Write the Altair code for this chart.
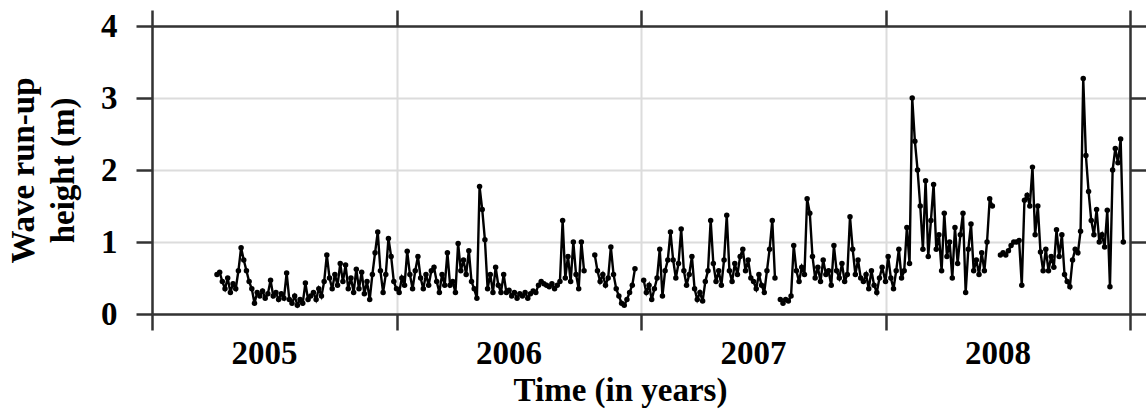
import altair as alt
import numpy as np
import pandas as pd

# Daily-ish wave run-up heights (m), one record every 4 days; None = missing record
start_2005 = "2005-04-08"
runup_2005 = [
    0.55, 0.58, 0.45, 0.35, 0.50, 0.30, 0.42, 0.35, 0.60, 0.92,
    0.75, 0.60, 0.45, 0.35, 0.15, 0.30, 0.25, 0.32, 0.22, 0.28,
    0.47, 0.25, 0.30, 0.20, 0.28, 0.22, 0.57, 0.20, 0.15, 0.25,
    0.12, 0.20, 0.15, 0.43, 0.20, 0.25, 0.30, 0.20, 0.35, 0.25,
    0.45, 0.82, 0.50, 0.35, 0.55, 0.40, 0.70, 0.45, 0.68, 0.35,
    0.50, 0.30, 0.62, 0.35, 0.58, 0.28, 0.45, 0.20, 0.55, 0.85,
    1.14, 0.60, 0.30, 0.55, 1.05, 0.80, 0.45,
]

start_2006 = "2006-01-01"
runup_2006 = [
    0.35, 0.30, 0.50, 0.40, 0.87, 0.55, 0.35, 0.60, 0.80, 0.50,
    0.35, 0.55, 0.40, 0.60, 0.65, 0.45, 0.30, 0.55, 0.40, 0.85,
    0.40, 0.45, 0.30, 0.98, 0.60, 0.75, 0.55, 0.88, 0.45, 0.35,
    0.22, 1.77, 1.45, 1.03, 0.35, 0.55, 0.30, 0.65, 0.40, 0.30,
    0.55, 0.30, 0.33, 0.25, 0.30, 0.22, 0.28, 0.25, 0.30, 0.22,
    0.28, 0.32, 0.30, 0.40, 0.45, 0.42, 0.40, 0.38, 0.42, 0.35,
    0.40, 0.45, 1.30, 0.50, 0.80, 0.45, 1.00, 0.55, 0.35, 1.00,
    0.60, None, None, None, 0.82, 0.60, 0.45, 0.55, 0.40, 0.50,
    0.93, 0.55, 0.35, 0.25, 0.15, 0.12, 0.20, 0.30, 0.40, 0.63,
    None, None,
]

start_2007 = "2007-01-01"
runup_2007 = [
    None, 0.47, 0.30, 0.40, 0.20, 0.35, 0.50, 0.90, 0.25, 0.60,
    0.75, 1.14, 0.75, 0.50, 0.70, 1.18, 0.60, 0.40, 0.55, 0.80,
    0.35, 0.20, 0.30, 0.18, 0.45, 0.60, 1.30, 0.70, 0.45, 0.60,
    0.40, 0.75, 1.37, 0.60, 0.45, 0.70, 0.55, 0.80, 0.90, 0.60,
    0.75, 0.50, 0.45, 0.35, 0.55, 0.40, 0.30, 0.60, 0.90, 1.30,
    0.50, None, 0.20, 0.15, 0.20, 0.18, 0.25, 0.95, 0.60, 0.45,
    0.65, 0.55, 1.60, 1.40, 0.80, 0.50, 0.65, 0.45, 0.75, 0.55,
    0.60, 0.40, 0.95, 0.60, 0.50, 0.70, 0.45, 0.55, 1.35, 0.90,
    0.55, 0.75, 0.50, 0.45, 0.55, 0.35, 0.60, 0.40, 0.30, 0.50,
    0.65,
]

start_2008 = "2008-01-01"
runup_2008 = [
    0.45, 0.80, 0.50, 0.35, 0.60, 0.90, 0.50, 0.60, 1.20, 0.70,
    3.00, 2.40, 2.00, 1.50, 0.90, 1.85, 0.80, 1.30, 1.80, 0.90,
    1.10, 0.60, 1.40, 0.80, 1.00, 0.50, 1.20, 0.70, 1.10, 1.40,
    0.30, 0.90, 1.25, 0.60, 0.75, 0.55, 0.85, 0.60, 1.00, 1.60,
    1.50, None, None, 0.82, 0.85, 0.82, 0.88, 0.95, 1.00, 1.00,
    1.02, 0.40, 1.58, 1.65, 1.50, 2.04, 1.10, 1.50, 0.86, 0.60,
    0.90, 0.60, 0.80, 0.65, 1.17, 0.80, 1.10, 0.55, 0.45, 0.38,
    0.75, 0.90, 0.85, 1.15, 3.27, 2.20, 1.70, 1.30, 1.10, 1.45,
    1.00, 1.10, 0.93, 1.44, 0.38, 2.00, 2.30, 2.10, 2.43, 1.00,
]

year_ticks = [2005, 2006, 2007, 2008, 2009]
height_ticks = [0, 1, 2, 3, 4]

frames = []
for start, vals in [(start_2005, runup_2005), (start_2006, runup_2006),
                    (start_2007, runup_2007), (start_2008, runup_2008)]:
    dates = pd.date_range(start, periods=len(vals), freq="4D")
    frames.append(pd.DataFrame({"date": dates, "runup": vals}))
df = pd.concat(frames, ignore_index=True)
df["runup"] = pd.to_numeric(df["runup"])
# a missing record breaks the line into a new segment
df["segment"] = df["runup"].isna().cumsum()
df = df.dropna().copy()
days_in_year = np.where(df["date"].dt.is_leap_year, 366, 365)
df["year"] = df["date"].dt.year + (df["date"].dt.dayofyear - 1) / days_in_year
df = df[["year", "runup", "segment"]]

FONT = "Liberation Serif"
x_scale = alt.Scale(domain=[2005, 2009], nice=False, zero=False)
y_scale = alt.Scale(domain=[0, 4], nice=False, zero=False)

base = alt.Chart(df)

line = base.mark_line(color="black", strokeWidth=2.4).encode(
    x=alt.X(
        "year:Q",
        scale=x_scale,
        axis=alt.Axis(
            orient="bottom",
            values=year_ticks,
            labelExpr="datum.value < 2009 ? format(datum.value, 'd') : ''",
            labelOffset=112,
            labelPadding=33,
            labelBaseline="alphabetic",
            labelOverlap=False,
            labelBound=False,
            labelFlush=False,
            grid=True,
            title="Time (in years)",
            titleX=468,
            titleY=86,
            titleAlign="center",
            titleBaseline="alphabetic",
        ),
    ),
    y=alt.Y(
        "runup:Q",
        scale=y_scale,
        axis=alt.Axis(
            orient="left",
            values=height_ticks,
            format="d",
            labelPadding=19,
            labelBaseline="middle",
            grid=True,
            title=["Wave run-up", "height (m)"],
            titleAngle=270,
            titleX=-129,
            titleY=144,
            titleAlign="center",
            titleBaseline="middle",
            titleLineHeight=40,
        ),
    ),
    detail="segment:N",
)

points = base.mark_circle(color="black", size=30, opacity=1).encode(
    x=alt.X(
        "year:Q",
        scale=x_scale,
        axis=alt.Axis(orient="top", values=year_ticks, labels=False,
                      grid=False, title=None),
    ),
    y=alt.Y(
        "runup:Q",
        scale=y_scale,
        axis=alt.Axis(orient="right", values=height_ticks, labels=False,
                      grid=False, title=None),
    ),
)

chart = (
    alt.layer(line, points)
    .resolve_axis(x="independent", y="independent")
    .properties(
        width=978,
        height=288,
        autosize=alt.AutoSizeParams(type="none"),
        padding={"left": 152, "top": 26, "right": 16, "bottom": 96},
        background="white",
    )
    .configure_axis(
        domainColor="#333333",
        domainWidth=2.5,
        tickColor="#333333",
        tickWidth=2.5,
        tickSize=16,
        gridColor="#dcdcdc",
        gridWidth=2,
        labelFont=FONT,
        labelFontSize=33,
        labelFontWeight="bold",
        labelColor="black",
        titleFont=FONT,
        titleFontSize=33,
        titleFontWeight="bold",
        titleColor="black",
    )
    .configure_view(stroke=None)
)

chart.save("out.html", embed_options={"renderer": "svg", "actions": False})
